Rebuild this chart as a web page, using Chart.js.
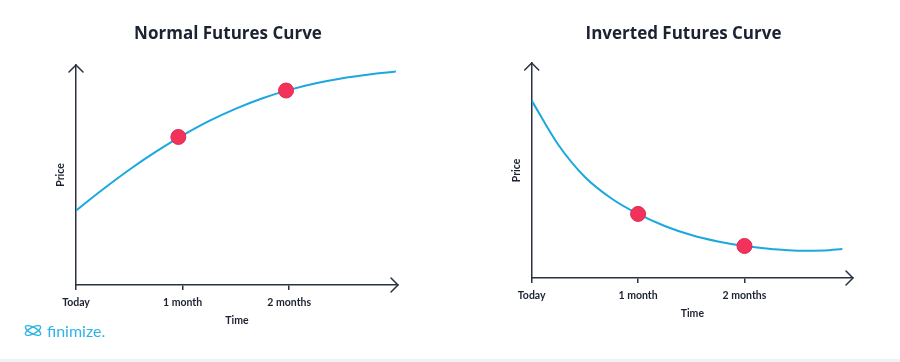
<!DOCTYPE html>
<html lang="en">
<head>
<meta charset="UTF-8">
<title>Futures Curves</title>
<script src="https://cdn.jsdelivr.net/npm/chart.js"></script>
<style>
  body { margin: 0; background: #fff; }
  #wrap { position: relative; width: 900px; height: 362px; overflow: hidden; background: #fff; }
  .box { position: absolute; top: 0; width: 450px; height: 362px; }
  #logo { position: absolute; left: 23px; top: 319px; height: 22px; display: flex; align-items: center;
          font-family: Lato, sans-serif; font-size: 16px; color: #2fb4e6; }
  #logo svg { margin-right: 3px; }
  #bottomLine { position: absolute; left: 0; top: 359px; width: 900px; height: 3px; background: #f1f2f4; }
</style>
</head>
<body>
<div id="wrap">
  <div class="box" style="left:0"><canvas id="normal" width="450" height="362"></canvas></div>
  <div class="box" style="left:450px"><canvas id="inverted" width="450" height="362"></canvas></div>
  <div id="logo">
    <svg width="21" height="15" viewBox="0 0 21 15" fill="none" stroke="#2fb4e6" stroke-width="1.4">
      <ellipse cx="10" cy="7.5" rx="8.5" ry="3.2" transform="rotate(28 10 7.5)"/>
      <ellipse cx="10" cy="7.5" rx="8.5" ry="3.2" transform="rotate(-28 10 7.5)"/>
    </svg>
    <span>finimize.</span>
  </div>
  <div id="bottomLine"></div>
</div>
<script>
// tick labels on the time axis
const tickValues = [0, 1, 2];
const tickLabels = ['Today', '1 month', '2 months'];

// normal curve (contango)
const normalX = [0, 0.25, 0.5, 0.75, 1.0, 1.25, 1.5, 1.75, 2.0, 2.25, 2.5, 2.75, 3.0];
const normalY = [33.8, 43.4, 52.4, 60.6, 68.0, 74.6, 80.2, 84.9, 88.7, 91.7, 94.0, 95.7, 97.0];
const normalDotX = [0.96, 1.97];
const normalDotY = [67.3, 88.4];

// inverted curve (backwardation)
const invertedX = [0, 0.25, 0.5, 0.75, 1.0, 1.25, 1.5, 1.75, 2.0, 2.25, 2.5, 2.75, 2.92];
const invertedY = [82.5, 62.0, 47.0, 37.0, 29.8, 24.2, 20.0, 17.0, 14.9, 13.5, 12.7, 12.8, 13.5];
const invertedDotX = [1.0, 2.0];
const invertedDotY = [29.8, 14.9];

Chart.defaults.font.family = 'Lato, sans-serif';

const axisColor = '#2a3142';
const textColor = '#1c2231';

// arrow heads at the end of both axes
const arrowPlugin = {
  id: 'arrows',
  afterDraw(chart) {
    const { ctx, chartArea: a } = chart;
    ctx.save();
    ctx.strokeStyle = axisColor;
    ctx.lineWidth = 1.5;
    ctx.lineCap = 'round';
    ctx.lineJoin = 'round';
    ctx.beginPath();
    ctx.moveTo(a.left - 7, a.top + 7);
    ctx.lineTo(a.left, a.top);
    ctx.lineTo(a.left + 7, a.top + 7);
    ctx.moveTo(a.right - 7, a.bottom - 7);
    ctx.lineTo(a.right, a.bottom);
    ctx.lineTo(a.right - 7, a.bottom + 7);
    ctx.stroke();
    ctx.restore();
  }
};

function toPoints(xs, ys) {
  return xs.map((x, i) => ({ x: x, y: ys[i] }));
}

function makeChart(id, title, xs, ys, dx, dy, g) {
  return new Chart(document.getElementById(id), {
    type: 'line',
    data: {
      datasets: [
        {
          data: toPoints(dx, dy),
          showLine: false,
          pointRadius: 7.5,
          pointHoverRadius: 7.5,
          pointBackgroundColor: '#f3325b',
          pointBorderColor: '#dc2a51',
          pointBorderWidth: 1,
          order: 0
        },
        {
          data: toPoints(xs, ys),
          borderColor: '#1ba8df',
          borderWidth: 2,
          pointRadius: 0,
          cubicInterpolationMode: 'monotone',
          fill: false,
          order: 1
        }
      ]
    },
    options: {
      responsive: false,
      animation: false,
      events: [],
      layout: { padding: { top: 0, left: g.padLeft, right: g.padRight, bottom: g.padBottom } },
      plugins: {
        legend: { display: false },
        tooltip: { enabled: false },
        title: {
          display: true,
          text: title,
          color: textColor,
          font: { family: '"Open Sans", sans-serif', size: 17, weight: 'bold' },
          padding: { top: 23.8, bottom: g.titleBottom }
        }
      },
      scales: {
        x: {
          type: 'linear',
          min: 0,
          max: 3.02,
          afterBuildTicks: (s) => { s.ticks = tickValues.map(v => ({ value: v })); },
          afterFit: (s) => { s.height = 50; },
          grid: { display: true, drawOnChartArea: false, drawTicks: true, tickLength: 5, color: axisColor, lineWidth: 1.5 },
          border: { display: true, color: axisColor, width: 1.5 },
          ticks: {
            padding: 6,
            color: textColor,
            font: { size: 10.5, weight: 'bold' },
            maxRotation: 0,
            callback: (v, i) => tickLabels[i]
          },
          title: {
            display: true,
            text: 'Time',
            color: textColor,
            font: { size: 10.5, weight: 'bold' },
            padding: { top: 0, bottom: 8 }
          }
        },
        y: {
          min: 0,
          max: 100,
          afterFit: (s) => { s.width = g.yWidth; },
          grid: { display: false },
          border: { display: true, color: axisColor, width: 1.5 },
          ticks: { display: false },
          title: {
            display: true,
            text: 'Price',
            color: textColor,
            font: { size: 10.5, weight: 'bold', lineHeight: 0.5 },
            padding: { top: 0, bottom: 0 }
          }
        }
      }
    },
    plugins: [arrowPlugin]
  });
}

makeChart('normal', 'Normal Futures Curve', normalX, normalY, normalDotX, normalDotY,
  { padLeft: 58, padRight: 52, padBottom: 27, yWidth: 18, titleBottom: 20.8 });
makeChart('inverted', 'Inverted Futures Curve', invertedX, invertedY, invertedDotX, invertedDotY,
  { padLeft: 64, padRight: 47, padBottom: 34, yWidth: 17.7, titleBottom: 18.8 });
</script>
</body>
</html>
